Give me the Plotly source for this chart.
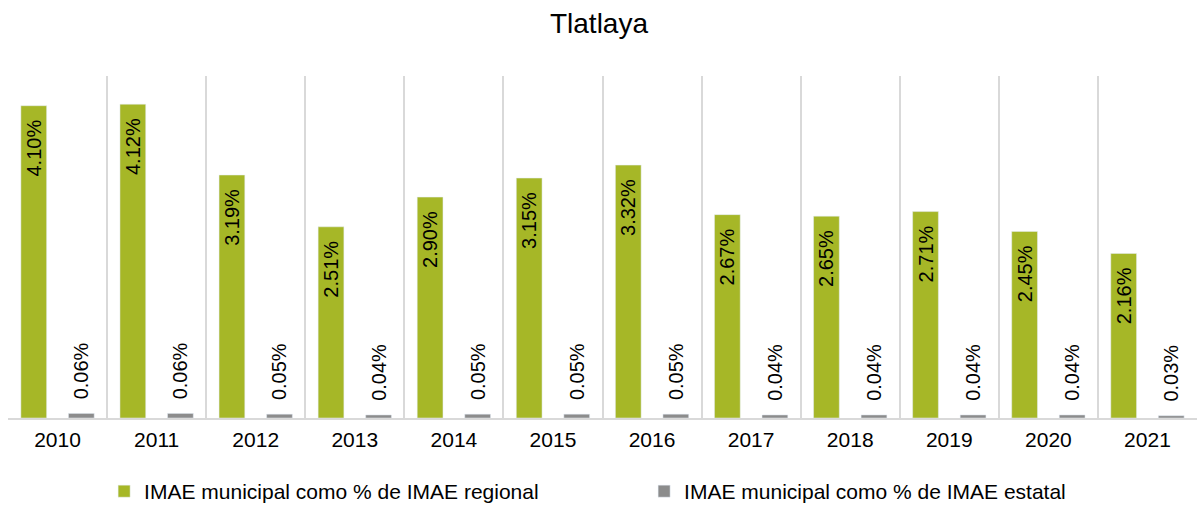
import plotly.graph_objects as go

years = ["2010", "2011", "2012", "2013", "2014", "2015",
         "2016", "2017", "2018", "2019", "2020", "2021"]
regional = [4.10, 4.12, 3.19, 2.51, 2.90, 3.15, 3.32, 2.67, 2.65, 2.71, 2.45, 2.16]
estatal = [0.06, 0.06, 0.05, 0.04, 0.05, 0.05, 0.05, 0.04, 0.04, 0.04, 0.04, 0.03]

font = "Liberation Sans, Arial, sans-serif"
pad = "\u00a0\u00a0"

fig = go.Figure()
fig.add_trace(go.Bar(
    x=years, y=regional, name="IMAE municipal como % de IMAE regional",
    marker_color="#A6B727", width=0.26, offset=-0.37,
    texttemplate="%{y:.2f}%" + pad, textposition="inside", insidetextanchor="end",
    textangle=-90, textfont=dict(color="black", size=20, family=font),
    constraintext="none",
))
fig.add_trace(go.Bar(
    x=years, y=estatal, name="IMAE municipal como % de IMAE estatal",
    marker_color="#8C8C8C", width=0.26, offset=0.11,
    texttemplate=pad + "%{y:.2f}%", textposition="outside",
    textangle=-90, textfont=dict(color="black", size=20, family=font),
    constraintext="none", cliponaxis=False,
))

fig.update_layout(
    width=1198, height=508,
    margin=dict(l=8, r=1, t=76, b=90, autoexpand=False),
    paper_bgcolor="white", plot_bgcolor="white",
    barmode="overlay",
    font=dict(family=font, color="black"),
    title=dict(text="Tlatlaya", x=0.5, xanchor="center", y=0.955, yanchor="middle",
               font=dict(size=28, color="black")),
    showlegend=True,
    legend=dict(orientation="h", x=0.535, xanchor="center", y=-0.215, yanchor="middle",
                font=dict(size=21), entrywidth=495, itemclick=False),
)
fig.update_xaxes(
    type="category", range=[-0.5, 11.5], tickson="boundaries", showgrid=True,
    gridcolor="#D9D9D9", gridwidth=1.5, showline=True, linecolor="#D9D9D9",
    linewidth=1.5, ticks="", tickfont=dict(size=21), ticklabelstandoff=2,
    automargin=False,
)
fig.update_yaxes(range=[0, 4.49], showgrid=False, showticklabels=False,
                 zeroline=False, showline=False, automargin=False)

# page body has a default 8px margin; drop it so the figure fills the window
fig.write_html("out.html", config={"displayModeBar": False},
               post_script="document.body.style.margin='0';")
